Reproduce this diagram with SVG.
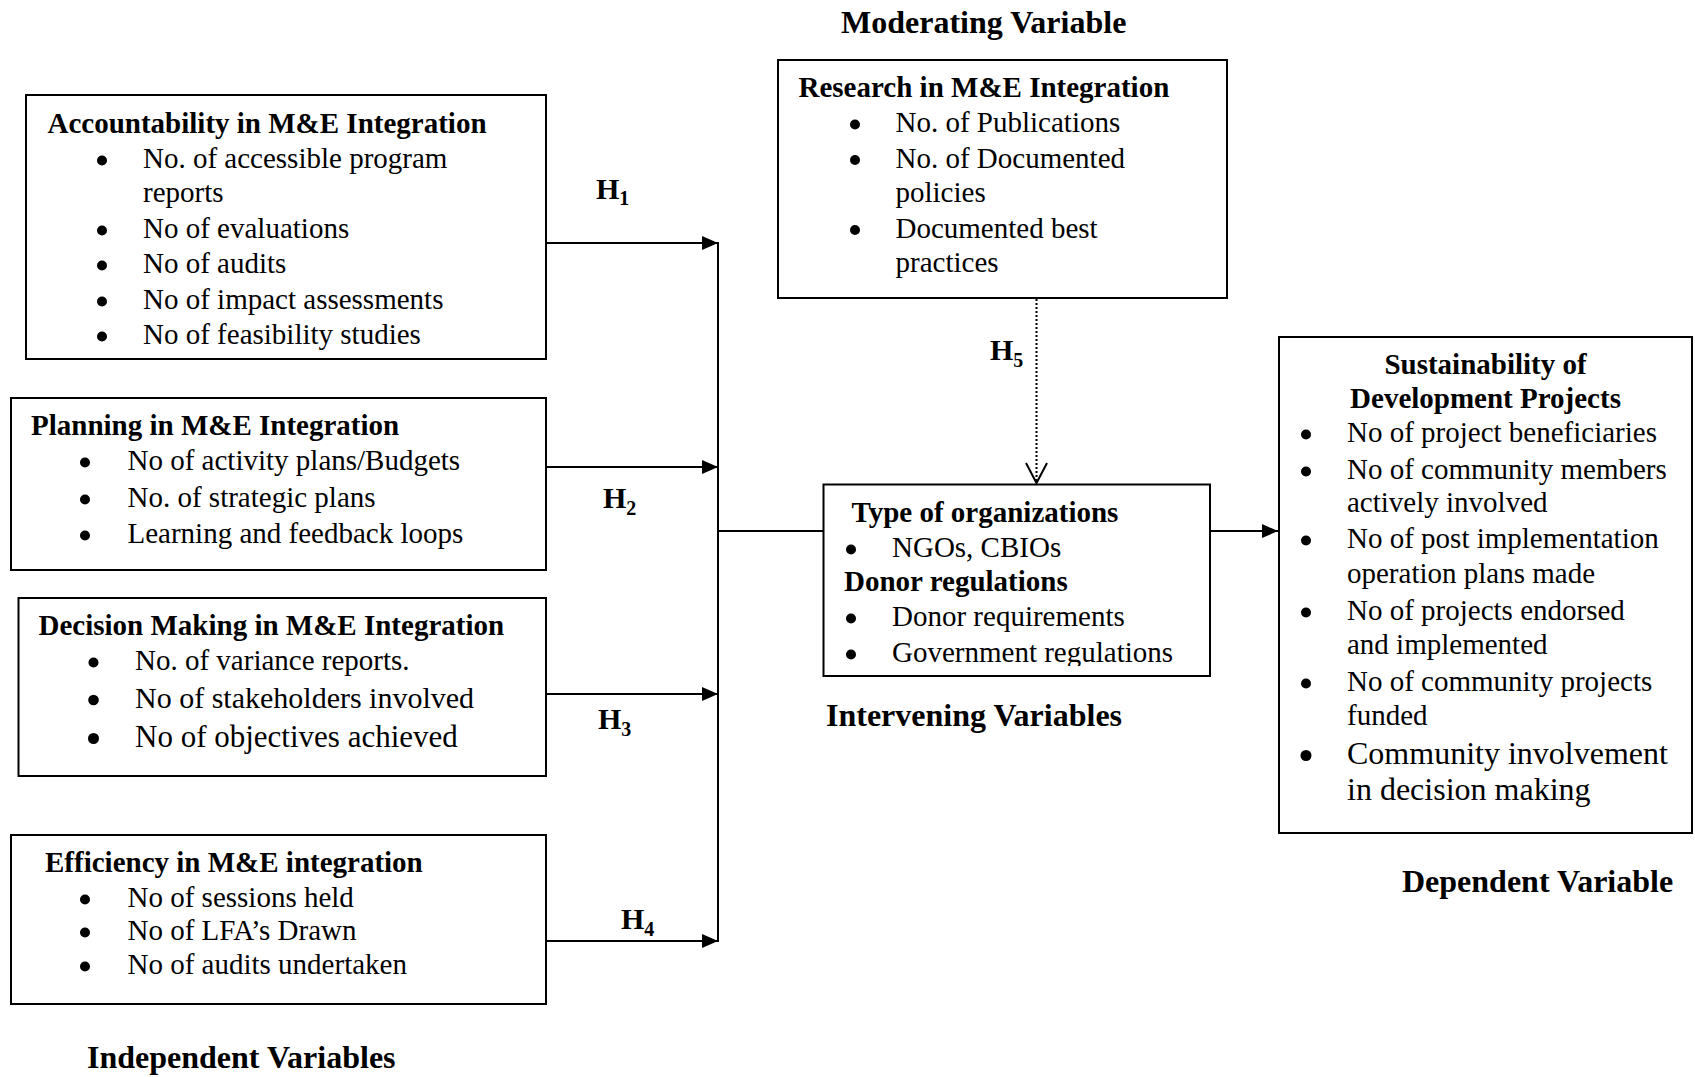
<svg xmlns="http://www.w3.org/2000/svg" width="1695" height="1077" viewBox="0 0 1695 1077">
<style>
text{font-family:"Liberation Serif","Times New Roman",serif;font-size:29px;fill:#000}
.b{font-weight:bold}
.lbl{font-weight:bold;font-size:32px}
.h{font-weight:bold;font-size:30px}
.sub{font-size:20px}
.box{fill:#fff;stroke:#000;stroke-width:2}
.con{stroke:#000;stroke-width:2;fill:none}
.dot{stroke:#000;stroke-width:2;fill:none;stroke-dasharray:2 2}
.mid{text-anchor:middle}
circle{fill:#000}
</style>
<defs>
<marker id="arr" viewBox="0 0 16 14" refX="16" refY="7" markerWidth="16" markerHeight="14" markerUnits="userSpaceOnUse" orient="auto">
<path d="M0,0 L16,7 L0,14 z" fill="#000"/>
</marker>
<clipPath id="clipInt"><rect x="823" y="484" width="388" height="182"/></clipPath>
</defs>
<rect width="1695" height="1077" fill="#fff"/>

<g id="connectors">
<line class="con" x1="546" y1="243" x2="718" y2="243" marker-end="url(#arr)"/>
<line class="con" x1="546" y1="467" x2="718" y2="467" marker-end="url(#arr)"/>
<line class="con" x1="546" y1="694" x2="718" y2="694" marker-end="url(#arr)"/>
<line class="con" x1="546" y1="941" x2="718" y2="941" marker-end="url(#arr)"/>
<line class="con" x1="718" y1="242" x2="718" y2="942"/>
<line class="con" x1="718" y1="531" x2="824" y2="531"/>
<line class="con" x1="1210" y1="531" x2="1278" y2="531" marker-end="url(#arr)"/>
<line class="dot" x1="1036.5" y1="299" x2="1036.5" y2="482"/>
<polyline class="con" points="1026,463 1036.5,483 1047,463"/>
<text class="h" x="596" y="199">H<tspan class="sub" dy="6">1</tspan></text>
<text class="h" x="603" y="508">H<tspan class="sub" dy="7">2</tspan></text>
<text class="h" x="598" y="729">H<tspan class="sub" dy="7">3</tspan></text>
<text class="h" x="621" y="929">H<tspan class="sub" dy="7">4</tspan></text>
<text class="h" x="990" y="360">H<tspan class="sub" dy="7">5</tspan></text>
</g>

<g id="accountability">
<rect class="box" x="26" y="95" width="520" height="264"/>
<text class="b" x="47.5" y="133">Accountability in M&amp;E Integration</text>
<circle cx="102" cy="160.5" r="5"/><text x="143" y="168">No. of accessible program</text>
<text x="143" y="202">reports</text>
<circle cx="102" cy="230.5" r="5"/><text x="143" y="238">No of evaluations</text>
<circle cx="102" cy="265.5" r="5"/><text x="143" y="273">No of audits</text>
<circle cx="102" cy="301.5" r="5"/><text x="143" y="309">No of impact assessments</text>
<circle cx="102" cy="336.5" r="5"/><text x="143" y="344">No of feasibility studies</text>
</g>

<g id="planning">
<rect class="box" x="11" y="398" width="535" height="172"/>
<text class="b" x="31" y="435">Planning in M&amp;E Integration</text>
<circle cx="85" cy="462.5" r="5"/><text x="127.5" y="470">No of activity plans/Budgets</text>
<circle cx="85" cy="499.5" r="5"/><text x="127.5" y="507">No. of strategic plans</text>
<circle cx="85" cy="535.5" r="5"/><text x="127.5" y="543">Learning and feedback loops</text>
</g>

<g id="decision">
<rect class="box" x="18.5" y="598" width="527.5" height="178"/>
<text class="b" x="38.5" y="635">Decision Making in M&amp;E Integration</text>
<circle cx="93.5" cy="662.5" r="5"/><text x="135" y="670">No. of variance reports.</text>
<circle cx="93.5" cy="700" r="5.3"/><text x="135" y="708" style="font-size:30px">No of stakeholders involved</text>
<circle cx="93.5" cy="738.5" r="5.5"/><text x="135" y="747" style="font-size:31px">No of objectives achieved</text>
</g>

<g id="efficiency">
<rect class="box" x="11" y="835" width="535" height="169"/>
<text class="b" x="45" y="872">Efficiency in M&amp;E integration</text>
<circle cx="85" cy="899.5" r="5"/><text x="127.5" y="907">No of sessions held</text>
<circle cx="85" cy="932.5" r="5"/><text x="127.5" y="940">No of LFA’s Drawn</text>
<circle cx="85" cy="966.5" r="5"/><text x="127.5" y="974">No of audits undertaken</text>
</g>
<text id="lbl-independent" class="lbl" x="87" y="1068">Independent Variables</text>

<text id="lbl-moderating" class="lbl" x="841" y="33">Moderating Variable</text>
<g id="research">
<rect class="box" x="778" y="60" width="449" height="238"/>
<text class="b" x="798.5" y="97">Research in M&amp;E Integration</text>
<circle cx="855" cy="124.5" r="5"/><text x="895.5" y="132">No. of Publications</text>
<circle cx="855" cy="160" r="5"/><text x="895.5" y="167.5">No. of Documented</text>
<text x="895.5" y="202">policies</text>
<circle cx="855" cy="230" r="5"/><text x="895.5" y="237.5">Documented best</text>
<text x="895.5" y="272">practices</text>
</g>

<g id="intervening">
<rect class="box" x="823.5" y="484.5" width="386.5" height="191.5"/>
<text class="b" x="851.5" y="522">Type of organizations</text>
<circle cx="851" cy="549.5" r="5"/><text x="892" y="557">NGOs, CBIOs</text>
<text class="b" x="844" y="591">Donor regulations</text>
<circle cx="851" cy="618.5" r="5"/><text x="892" y="626">Donor requirements</text>
<circle cx="851" cy="654.5" r="5"/><text x="892" y="662" clip-path="url(#clipInt)">Government regulations</text>
</g>
<text id="lbl-intervening" class="lbl" x="826" y="726">Intervening Variables</text>

<g id="dependent">
<rect class="box" x="1279" y="337" width="413" height="496"/>
<text class="b mid" x="1485.5" y="374">Sustainability of</text>
<text class="b mid" x="1485.5" y="408">Development Projects</text>
<circle cx="1306" cy="434.5" r="5"/><text x="1347" y="442">No of project beneficiaries</text>
<circle cx="1306" cy="471.5" r="5"/><text x="1347" y="479">No of community members</text>
<text x="1347" y="512">actively involved</text>
<circle cx="1306" cy="540.5" r="5"/><text x="1347" y="548">No of post implementation</text>
<text x="1347" y="583">operation plans made</text>
<circle cx="1306" cy="612.5" r="5"/><text x="1347" y="620">No of projects endorsed</text>
<text x="1347" y="654">and implemented</text>
<circle cx="1306" cy="683.5" r="5"/><text x="1347" y="691">No of community projects</text>
<text x="1347" y="725">funded</text>
<circle cx="1306" cy="755.5" r="5.5"/><text x="1347" y="764" style="font-size:32px">Community involvement</text>
<text x="1347" y="800" style="font-size:32px">in decision making</text>
</g>
<text id="lbl-dependent" class="lbl" x="1402" y="892">Dependent Variable</text>
</svg>
